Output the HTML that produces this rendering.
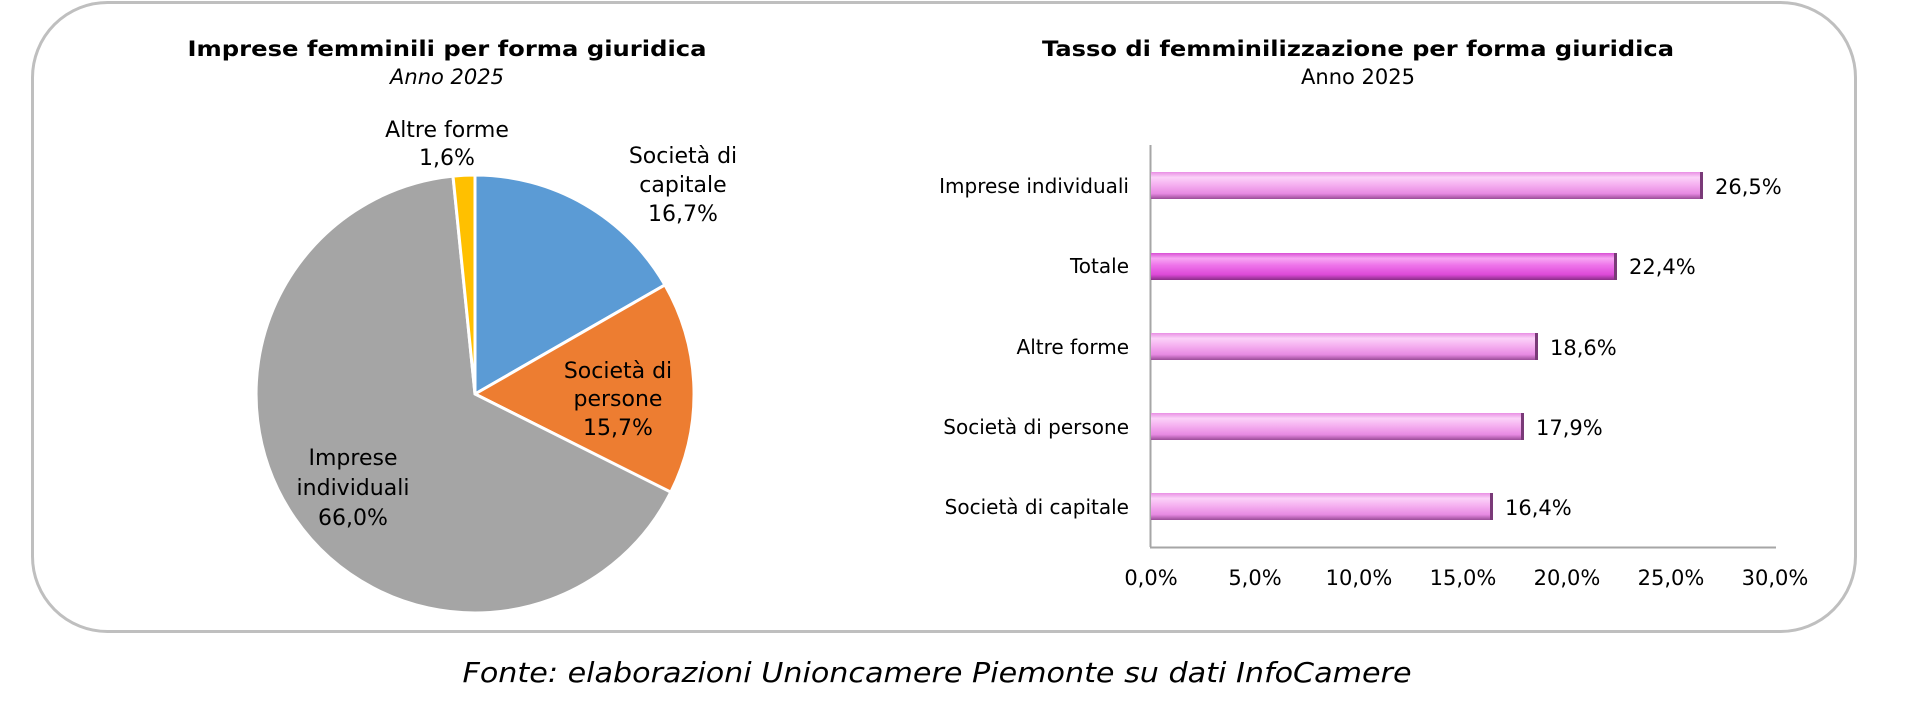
<!DOCTYPE html>
<html><head><meta charset="utf-8"><style>
html,body{margin:0;padding:0;background:#fff;}
svg{display:block;}
text{font-family:"DejaVu Sans","Liberation Sans",sans-serif;fill:#000;}
</style></head><body>
<svg width="1920" height="705" viewBox="0 0 1920 705" xmlns="http://www.w3.org/2000/svg">
<defs>
<linearGradient id="gp" x1="0" y1="0" x2="0" y2="1">
<stop offset="0" stop-color="#e98fe4"/><stop offset="0.2" stop-color="#fbd2f8"/><stop offset="0.45" stop-color="#f6b3f1"/><stop offset="0.8" stop-color="#e78ae2"/><stop offset="1" stop-color="#9a4c98"/>
</linearGradient>
<linearGradient id="gt" x1="0" y1="0" x2="0" y2="1">
<stop offset="0" stop-color="#d84fd4"/><stop offset="0.2" stop-color="#f7a6f3"/><stop offset="0.45" stop-color="#ee74ea"/><stop offset="0.8" stop-color="#dd4ad8"/><stop offset="1" stop-color="#8a2e88"/>
</linearGradient>
</defs>
<rect x="32.5" y="2.5" width="1823" height="629" rx="75" ry="75" fill="#fff" stroke="#bfbfbf" stroke-width="3"/>

<text x="447" y="56" font-size="21" font-weight="bold" text-anchor="middle" textLength="519" lengthAdjust="spacingAndGlyphs">Imprese femminili per forma giuridica</text>
<text x="447" y="84" font-size="21" font-style="italic" text-anchor="middle">Anno 2025</text>

<g stroke="#fff" stroke-width="3">
<path d="M475,394 L475,175 A219,219 0 0 1 664.9,284.9 Z" fill="#5b9bd5"/>
<path d="M475,394 L664.9,284.9 A219,219 0 0 1 670.8,492.2 Z" fill="#ed7d31"/>
<path d="M475,394 L670.8,492.2 A219,219 0 1 1 453.0,176.1 Z" fill="#a5a5a5"/>
<path d="M475,394 L453.0,176.1 A219,219 0 0 1 475,175 Z" fill="#ffc000"/>
</g>
<g font-size="22" text-anchor="middle">
<text x="447" y="137">Altre forme</text><text x="447" y="165">1,6%</text>
<text x="683" y="163">Società di</text><text x="683" y="192">capitale</text><text x="683" y="221">16,7%</text>
<text x="618" y="378">Società di</text><text x="618" y="406">persone</text><text x="618" y="435">15,7%</text>
<text x="353" y="465">Imprese</text><text x="353" y="495">individuali</text><text x="353" y="525">66,0%</text>
</g>

<text x="1358" y="56" font-size="21" font-weight="bold" text-anchor="middle" textLength="632" lengthAdjust="spacingAndGlyphs">Tasso di femminilizzazione per forma giuridica</text>
<text x="1358" y="84" font-size="21" text-anchor="middle">Anno 2025</text>

<line x1="1150.5" y1="145" x2="1150.5" y2="547" stroke="#a6a6a6" stroke-width="2"/>
<line x1="1150" y1="547.5" x2="1776" y2="547.5" stroke="#a6a6a6" stroke-width="2"/>

<g>
<rect x="1151" y="172" width="552" height="27" fill="url(#gp)"/>
<rect x="1151" y="253" width="466" height="27" fill="url(#gt)"/>
<rect x="1151" y="333" width="387" height="27" fill="url(#gp)"/>
<rect x="1151" y="413" width="373" height="27" fill="url(#gp)"/>
<rect x="1151" y="493" width="342" height="27" fill="url(#gp)"/>
<g fill="#7a3a78">
<rect x="1700" y="172" width="3" height="27"/><rect x="1614" y="253" width="3" height="27"/>
<rect x="1535" y="333" width="3" height="27"/><rect x="1521" y="413" width="3" height="27"/><rect x="1490" y="493" width="3" height="27"/>
</g>
</g>
<g font-size="20" text-anchor="end">
<text x="1129" y="193">Imprese individuali</text>
<text x="1129" y="273">Totale</text>
<text x="1129" y="354">Altre forme</text>
<text x="1129" y="434">Società di persone</text>
<text x="1129" y="514">Società di capitale</text>
</g>
<g font-size="21">
<text x="1715" y="194">26,5%</text>
<text x="1629" y="274">22,4%</text>
<text x="1550" y="355">18,6%</text>
<text x="1536" y="435">17,9%</text>
<text x="1505" y="515">16,4%</text>
</g>
<g font-size="21" text-anchor="middle">
<text x="1151" y="585">0,0%</text><text x="1255" y="585">5,0%</text><text x="1359" y="585">10,0%</text>
<text x="1463" y="585">15,0%</text><text x="1567" y="585">20,0%</text><text x="1671" y="585">25,0%</text><text x="1775" y="585">30,0%</text>
</g>

<text x="937" y="682" font-size="28" font-style="italic" text-anchor="middle" textLength="949" lengthAdjust="spacingAndGlyphs">Fonte: elaborazioni Unioncamere Piemonte su dati InfoCamere</text>
</svg>
</body></html>
